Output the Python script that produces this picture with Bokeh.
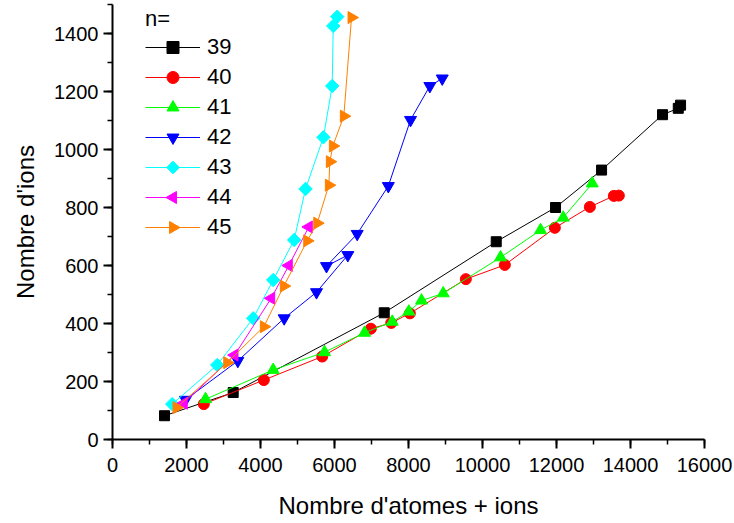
import numpy as np
from bokeh.plotting import figure
from bokeh.models import Legend, LegendItem, Range1d, SingleIntervalTicker
from bokeh.embed import file_html
from bokeh.resources import INLINE

# ---- data ----
series_names = ["39", "40", "41", "42", "43", "44", "45"]

x39 = [1406, 3262, 7344, 10371, 11974, 13218, 14866, 15291, 15353]
y39 = [82, 162, 437, 682, 800, 929, 1120, 1142, 1153]

x40 = [2468, 4090, 5668, 6982, 7533, 8036, 9550, 10604, 11956, 12902, 13550, 13685]
y40 = [122, 205, 286, 382, 402, 435, 553, 602, 730, 802, 840, 841]

x41 = [2514, 4343, 5730, 6812, 7560, 8009, 8352, 8938, 10488, 11569, 12182, 12966]
y41 = [139, 240, 301, 368, 406, 441, 479, 504, 628, 722, 765, 883]

x42 = [1973, 3387, 4640, 5514, 6360, 5784, 6614, 7455, 8055, 8577, 8912]
y42 = [137, 271, 418, 508, 636, 598, 709, 874, 1102, 1219, 1245]

x43 = [1614, 2830, 3803, 4343, 4910, 5217, 5700, 5938, 5966, 6074]
y43 = [122, 257, 418, 550, 688, 864, 1042, 1219, 1426, 1458]

x44 = [1927, 3298, 4290, 4765, 5306]
y44 = [125, 291, 487, 600, 733]

x45 = [1730, 3100, 4090, 4630, 5262, 5533, 5847, 5874, 5955, 6252, 6460]
y45 = [110, 265, 389, 529, 685, 746, 877, 958, 1012, 1115, 1455]

xs = [x39, x40, x41, x42, x43, x44, x45]
ys = [y39, y40, y41, y42, y43, y44, y45]

# ---- styles ----
colors = ["#000000", "#FF0000", "#00FF00", "#0000FF", "#00FFFF", "#FF00FF", "#FF8000"]
markers = ["square", "circle", "triangle", "inverted_triangle", "square", "triangle", "triangle"]
angles = [0, 0, 0, 0, np.pi / 4, np.pi / 2, -np.pi / 2]
sizes = [10, 11, 12, 12, 9.5, 12, 12]
rotated = [False, False, False, False, True, True, True]

FONT = "Liberation Sans"

W, H = 734, 523
BL, BR, BT, BB = 112, 30, 4, 84
FW, FH = W - BL - BR, H - BT - BB

p = figure(width=W, height=H,
           x_range=Range1d(0, 16000), y_range=Range1d(0, 1500),
           output_backend="svg", toolbar_location=None,
           min_border_left=BL, min_border_right=BR,
           min_border_top=BT, min_border_bottom=BB)

p.xgrid.visible = False
p.ygrid.visible = False
p.outline_line_color = None
p.background_fill_color = "white"
p.border_fill_color = "white"

p.xaxis.ticker = SingleIntervalTicker(interval=2000, num_minor_ticks=2)
p.yaxis.ticker = SingleIntervalTicker(interval=200, num_minor_ticks=2)

for ax in (p.xaxis, p.yaxis):
    ax.axis_line_width = 2
    ax.axis_line_color = "black"
    ax.major_tick_line_width = 2
    ax.minor_tick_line_width = 1.5
    ax.major_tick_line_color = "black"
    ax.minor_tick_line_color = "black"
    ax.major_tick_out = 9
    ax.major_tick_in = 0
    ax.minor_tick_out = 5
    ax.minor_tick_in = 0
    ax.major_label_text_font = FONT
    ax.major_label_text_font_size = "20px"
    ax.major_label_text_color = "black"
    ax.axis_label_text_font = FONT
    ax.axis_label_text_font_size = "24px"
    ax.axis_label_text_font_style = "normal"
    ax.axis_label_text_color = "black"

p.xaxis.major_label_standoff = 9
p.yaxis.major_label_standoff = 5
p.xaxis.axis_label = "Nombre d'atomes + ions"
p.yaxis.axis_label = "Nombre d'ions"
p.xaxis.axis_label_standoff = 17
p.yaxis.axis_label_standoff = 12

# pixel coordinate system of the frame (used only to place legend symbols)
p.extra_x_ranges = {"px": Range1d(0, FW)}
p.extra_y_ranges = {"px": Range1d(0, FH)}

LEG_X, LEG_Y, ITEM_H, GLYPH_W = 33, 197, 30, 55
n_items = len(series_names)

items = []
for i, (name, x, y, c, m, a, s, rot) in enumerate(
        zip(series_names, xs, ys, colors, markers, angles, sizes, rotated)):
    lr = p.line(x, y, line_color=c, line_width=1)
    sr = p.scatter(x, y, marker=m, angle=a, size=s, fill_color=c, line_color=c, line_width=1)
    if rot:
        # Bokeh does not rotate legend symbols: draw the rotated symbol over the legend line
        items.append(LegendItem(label=name, renderers=[lr]))
        cy = FH - (FH - LEG_Y - n_items * ITEM_H + ITEM_H / 2 + i * ITEM_H)
        cx = LEG_X + GLYPH_W / 2
        p.scatter([cx], [cy], marker=m, angle=a, size=(9 if m == "square" else 12),
                  fill_color=c, line_color=c, x_range_name="px", y_range_name="px")
    else:
        items.append(LegendItem(label=name, renderers=[lr, sr]))

legend = Legend(items=items, location=(LEG_X, LEG_Y))
legend.title = "n="
legend.title_text_font = FONT
legend.title_text_font_size = "22px"
legend.title_text_font_style = "normal"
legend.title_text_color = "black"
legend.title_standoff = 0
legend.border_line_color = None
legend.background_fill_alpha = 0
legend.padding = 0
legend.margin = 0
legend.spacing = 0
legend.glyph_width = GLYPH_W
legend.glyph_height = ITEM_H
legend.label_height = ITEM_H
legend.label_standoff = 7
legend.label_text_font = FONT
legend.label_text_font_size = "22px"
legend.label_text_color = "black"
p.add_layout(legend)

open("out.html", "w").write(file_html(p, INLINE))
